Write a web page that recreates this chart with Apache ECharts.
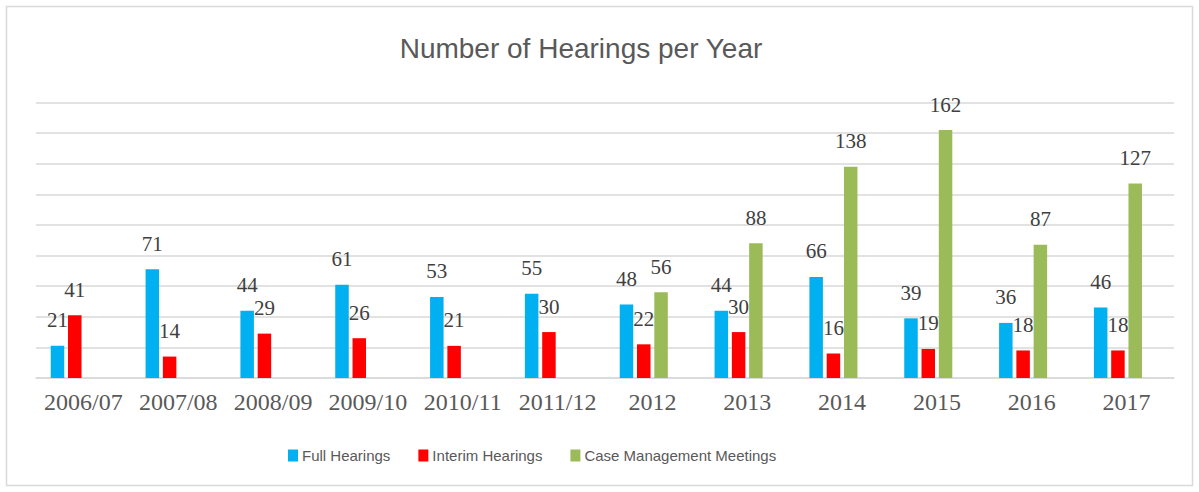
<!DOCTYPE html>
<html>
<head>
<meta charset="utf-8">
<script src="https://cdn.jsdelivr.net/npm/echarts@6/dist/echarts.min.js"></script>
<style>
html,body{margin:0;padding:0;background:#fff;}
#chart{width:1199px;height:492px;}
</style>
</head>
<body>
<div id="chart"></div>
<script>
const categories = ['2006/07','2007/08','2008/09','2009/10','2010/11','2011/12','2012','2013','2014','2015','2016','2017'];
const fullHearings = [21,71,44,61,53,55,48,44,66,39,36,46];
const interimHearings = [41,14,29,26,21,30,22,30,16,19,18,18];
const caseManagement = [null,null,null,null,null,null,56,88,138,162,87,127];
const seriesNames = ['Full Hearings','Interim Hearings','Case Management Meetings'];
const seriesColors = ['#00B0F0','#FF0000','#9BBB59'];

const chart = echarts.init(document.getElementById('chart'), null, {renderer:'svg'});
const labelStyle = {show:true, position:'top', distance:15, fontFamily:'Liberation Serif', fontSize:21, color:'#404040'};
function barSeries(name, data, color){
  return {name:name, type:'bar', data:data, barWidth:13.5, barGap:'28%', barCategoryGap:'0%',
    itemStyle:{color:color}, label:labelStyle, emphasis:{disabled:true}};
}
chart.setOption({
  animation:false,
  title:{text:'Number of Hearings per Year', left:576, top:29, textAlign:'center',
    textStyle:{fontFamily:'Liberation Sans', fontSize:28, fontWeight:'normal', color:'#595959'}},
  legend:{data:seriesNames, left:283, top:443, itemWidth:10, itemHeight:12, itemGap:28,
    icon:'rect', textStyle:{fontFamily:'Liberation Sans', fontSize:15, color:'#595959', padding:[0,0,0,-1]}},
  grid:{left:36, right:25, top:102.5, bottom:114, containLabel:false},
  xAxis:{type:'category', data:categories,
    axisLine:{lineStyle:{color:'#d9d9d9', width:1.5}}, axisTick:{show:false},
    axisLabel:{margin:12, fontFamily:'Liberation Serif', fontSize:24, color:'#595959', interval:0}},
  yAxis:{type:'value', min:0, max:180, interval:20, axisLabel:{show:false}, axisLine:{show:false}, axisTick:{show:false},
    splitLine:{lineStyle:{color:'#d9d9d9', width:1.5}}},
  graphic:[{type:'rect', shape:{x:6.5, y:6.5, width:1186, height:479}, style:{fill:'none', stroke:'#d9d9d9', lineWidth:1.5}, silent:true}],
  series:[
    barSeries(seriesNames[0], fullHearings, seriesColors[0]),
    barSeries(seriesNames[1], interimHearings, seriesColors[1]),
    barSeries(seriesNames[2], caseManagement, seriesColors[2]),
    {name:'spacer', type:'bar', data:[], barWidth:13.5, barGap:'28%'}
  ]
});
</script>
</body>
</html>
